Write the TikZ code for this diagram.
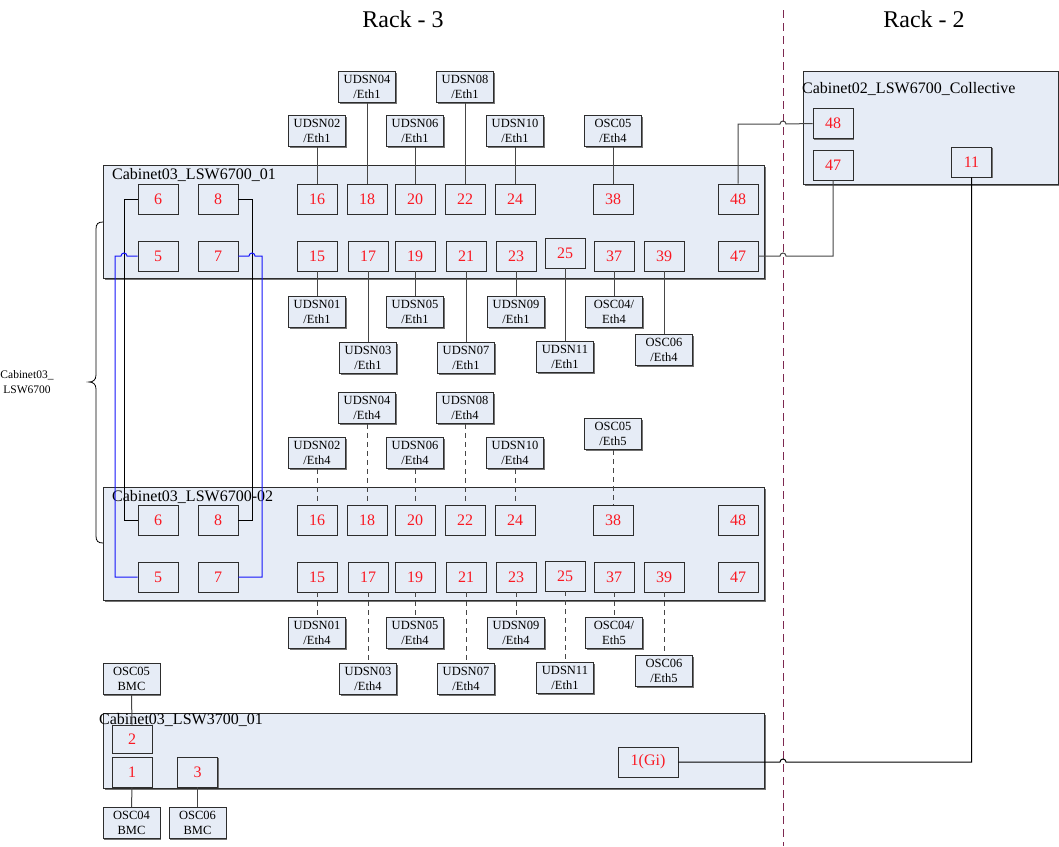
\documentclass[tikz,border=0pt]{standalone}
\usepackage{fontspec}
\setmainfont{Liberation Serif}
\usetikzlibrary{shadows}
\definecolor{panel}{RGB}{230,236,246}
\definecolor{edgecol}{RGB}{45,45,45}
\definecolor{wirecol}{RGB}{70,70,70}
\definecolor{portred}{RGB}{250,25,35}
\definecolor{rackdiv}{RGB}{125,40,80}
\definecolor{shade}{RGB}{115,115,115}
\definecolor{crossblue}{RGB}{20,20,250}

\tikzset{
  boxshadow/.style={drop shadow={shadow xshift=1.3pt,shadow yshift=-1.3pt,fill=shade,opacity=1}},
  cabinet/.style={draw=edgecol, fill=panel, line width=0.8pt, inner sep=0pt,
                  anchor=north west, boxshadow},
  cabtitle/.style={anchor=west, inner sep=0pt, font=\fontsize{16}{18}\selectfont},
  port/.style={draw=edgecol, fill=panel, line width=0.9pt, minimum width=40pt,
               minimum height=30pt, inner sep=0pt, text=portred,
               font=\fontsize{16}{18}\selectfont, boxshadow},
  hostbox/.style={draw=edgecol, fill=panel, line width=0.9pt, minimum width=57pt,
                  minimum height=31pt, inner sep=0pt, align=center,
                  font=\fontsize{12.5}{15}\selectfont, boxshadow},
  link/.style={draw=wirecol, line width=1pt},
  dlink/.style={link, dash pattern=on 5pt off 4pt},
  racktitle/.style={inner sep=0pt, font=\fontsize{24}{28}\selectfont},
}

\begin{document}
\begin{tikzpicture}[x=1pt,y=-1pt]
\useasboundingbox[fill=white] (0,0) rectangle (1059,846);

% rack headings and divider
\node[racktitle] (r3) at (403,19) {Rack - 3};
\node[racktitle] (r2) at (924,19) {Rack - 2};
\coordinate (divtop) at (783,10);
\coordinate (divbot) at (783,846);
\draw[rackdiv, line width=0.9pt, dash pattern=on 8pt off 5pt] (divtop) -- (divbot);

% cabinets
\node[cabinet, minimum width=661pt, minimum height=113pt] (cabA) at (103,165) {};
\node[cabinet, minimum width=661pt, minimum height=113pt] (cabB) at (103,487) {};
\node[cabinet, minimum width=661pt, minimum height=75pt]  (cabC) at (103,713) {};
\node[cabinet, minimum width=255pt, minimum height=113pt] (cabK) at (803,71) {};

\node[cabtitle] (tA) at (112,175) {Cabinet03\_LSW6700\_01};
\node[cabtitle] (tB) at (112,497) {Cabinet03\_LSW6700-02};
\node[cabtitle] (tC) at (99,720) {Cabinet03\_LSW3700\_01};
\node[cabtitle] (tK) at (802,89) {Cabinet02\_LSW6700\_Collective};

% brace grouping the two LSW6700 switches
\coordinate (brTop) at (103,222);
\coordinate (brBot) at (103,543);
\draw[black, line width=0.8pt] (brTop) .. controls (98,222) and (96,224) .. (96,229)
  -- (96,375) .. controls (96,380) and (93,382) .. (89,382)
  .. controls (93,382) and (96,384) .. (96,389)
  -- (96,536) .. controls (96,541) and (98,543) .. (brBot);
\node[align=center, inner sep=0pt, font=\fontsize{11.5}{15}\selectfont] (side) at (27,382) {Cabinet03\_\\LSW6700};

% ports of Cabinet03_LSW6700_01
\foreach \n/\x in {6/158,8/218,16/317,18/367,20/415,22/465,24/515,38/613,48/738}
  \node[port] (a\n) at (\x,199) {\n};
\foreach \n/\x in {5/158,7/218,15/317,17/368,19/415,21/466,23/516,37/614,39/664,47/738}
  \node[port] (a\n) at (\x,256) {\n};
\node[port] (a25) at (565,253) {25};

% ports of Cabinet03_LSW6700-02
\foreach \n/\x in {6/158,8/218,16/317,18/367,20/415,22/465,24/515,38/613,48/738}
  \node[port] (b\n) at (\x,520) {\n};
\foreach \n/\x in {5/158,7/218,15/317,17/368,19/415,21/466,23/516,37/614,39/664,47/738}
  \node[port] (b\n) at (\x,577) {\n};
\node[port] (b25) at (565,576) {25};

% ports of Cabinet02_LSW6700_Collective
\node[port] (k48) at (833,123.5) {48};
\node[port] (k47) at (833,165) {47};
\node[port] (k11) at (971.5,162) {11};

% ports of Cabinet03_LSW3700_01
\node[port, minimum height=28pt] (c2) at (132,739) {2};
\node[port] (c1) at (132,772) {1};
\node[port] (c3) at (197.5,772) {3};
\node[port, minimum width=60pt] (gi) at (648,762) {1(Gi)};

% hosts wired to Cabinet03_LSW6700_01
\foreach \nm/\t/\x/\y in {
  ua04/{UDSN04\\/Eth1}/367/87, ua08/{UDSN08\\/Eth1}/465/87,
  ua02/{UDSN02\\/Eth1}/317/131, ua06/{UDSN06\\/Eth1}/415/131,
  ua10/{UDSN10\\/Eth1}/515/131, oa05/{OSC05\\/Eth4}/613/131,
  ua01/{UDSN01\\/Eth1}/317/312, ua03/{UDSN03\\/Eth1}/368/358,
  ua05/{UDSN05\\/Eth1}/415/312, ua07/{UDSN07\\/Eth1}/466/358,
  ua09/{UDSN09\\/Eth1}/516/312, ua11/{UDSN11\\/Eth1}/565/357,
  oa04/{OSC04/\\Eth4}/614/312, oa06/{OSC06\\/Eth4}/664/350}
  \node[hostbox] (\nm) at (\x,\y) {\t};

% hosts wired to Cabinet03_LSW6700-02
\foreach \nm/\t/\x/\y in {
  ub04/{UDSN04\\/Eth4}/367/408, ub08/{UDSN08\\/Eth4}/465/408,
  ub02/{UDSN02\\/Eth4}/317/453, ub06/{UDSN06\\/Eth4}/415/453,
  ub10/{UDSN10\\/Eth4}/515/453, ob05/{OSC05\\/Eth5}/613/434,
  ub01/{UDSN01\\/Eth4}/317/633, ub03/{UDSN03\\/Eth4}/368/679,
  ub05/{UDSN05\\/Eth4}/415/633, ub07/{UDSN07\\/Eth4}/466/679,
  ub09/{UDSN09\\/Eth4}/516/633, ub11/{UDSN11\\/Eth1}/565/678,
  ob04/{OSC04/\\Eth5}/614/633, ob06/{OSC06\\/Eth5}/664/671}
  \node[hostbox] (\nm) at (\x,\y) {\t};

% BMC hosts
\node[hostbox] (bmc5) at (131.5,679) {OSC05\\BMC};
\node[hostbox] (bmc4) at (131.5,823) {OSC04\\BMC};
\node[hostbox] (bmc6) at (197.5,823) {OSC06\\BMC};

% host links, first switch (solid)
\foreach \h/\p in {ua02/a16,ua04/a18,ua06/a20,ua08/a22,ua10/a24,oa05/a38}
  \draw[link] (\h.south) -- (\p.north);
\foreach \h/\p in {ua01/a15,ua03/a17,ua05/a19,ua07/a21,ua09/a23,ua11/a25,oa04/a37,oa06/a39}
  \draw[link] (\p.south) -- (\h.north);

% host links, second switch (dashed)
\foreach \h/\p in {ub02/b16,ub04/b18,ub06/b20,ub08/b22,ub10/b24,ob05/b38}
  \draw[dlink] (\h.south) -- (\p.north);
\foreach \h/\p in {ub01/b15,ub03/b17,ub05/b19,ub07/b21,ub09/b23,ub11/b25,ob04/b37,ob06/b39}
  \draw[dlink] (\p.south) -- (\h.north);

% BMC links
\draw[link] (bmc5.south) -- (c2.north);
\draw[link] (c1.south) -- (bmc4.north);
\draw[link] (c3.south) -- (bmc6.north);

% links between the two LSW6700 switches
\coordinate (kl) at (124,0);
\coordinate (kr) at (252,0);
\coordinate (bl) at (115,0);
\coordinate (br) at (262,0);
\draw[black, line width=1pt] (a6.west) -- (kl |- a6.west) -- (kl |- b6.west) -- (b6.west);
\draw[black, line width=1pt] (a8.east) -- (kr |- a8.east) -- (kr |- b8.east) -- (b8.east);
\coordinate (hb1) at (127,256);
\coordinate (hb2) at (249,256);
\draw[crossblue, line width=1pt] (a5.west) -- (hb1) arc[start angle=0,end angle=180,radius=3pt]
  -- (bl |- a5.west) -- (bl |- b5.west) -- (b5.west);
\draw[crossblue, line width=1pt] (a7.east) -- (hb2) arc[start angle=180,end angle=0,radius=3pt]
  -- (br |- a7.east) -- (br |- b7.east) -- (b7.east);

% uplinks to the collective switch in Rack - 2
\coordinate (hopA) at (780,124);
\coordinate (hopB) at (780,256);
\coordinate (hopC) at (786,762);
\draw[link] (a48.north) |- (hopA) arc[start angle=180,end angle=0,radius=3pt] -- (k48.west);
\draw[link] (a47.east) -- (hopB) arc[start angle=180,end angle=0,radius=3pt] -| (k47.south);
\draw[black, line width=1pt] (k11.south) |- (hopC) arc[start angle=0,end angle=180,radius=3pt] -- (gi.east);
\end{tikzpicture}
\end{document}
